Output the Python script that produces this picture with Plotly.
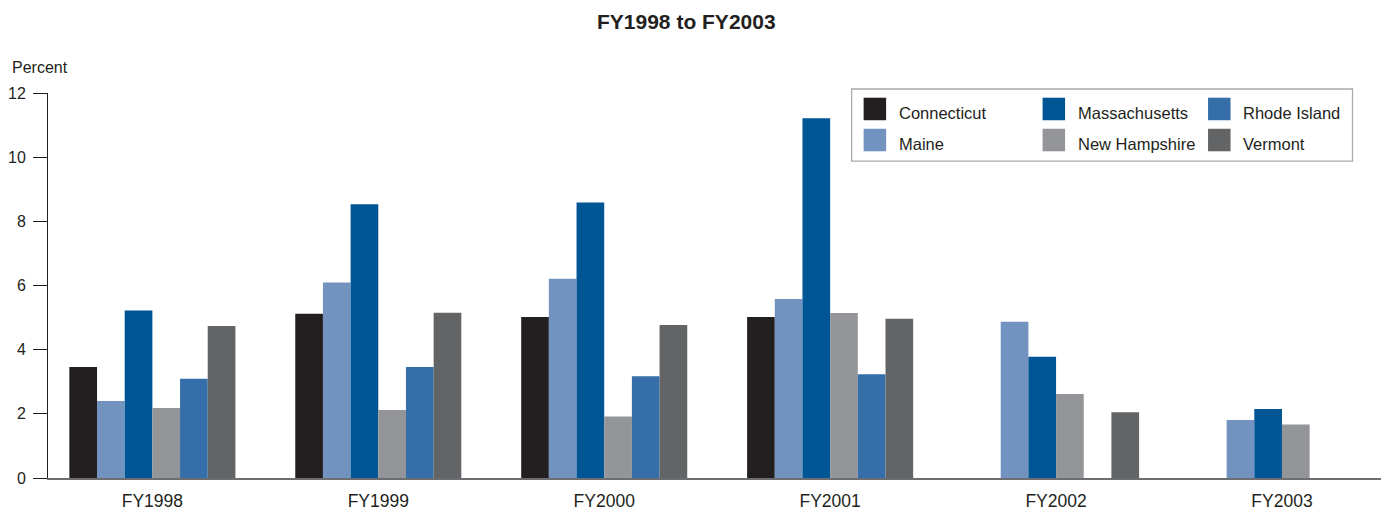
import plotly.graph_objects as go

years = ["FY1998", "FY1999", "FY2000", "FY2001", "FY2002", "FY2003"]
states = ["Connecticut", "Maine", "Massachusetts", "New Hampshire", "Rhode Island", "Vermont"]
connecticut = [3.46, 5.12, 5.02, 5.02, None, None]
maine = [2.40, 6.09, 6.21, 5.58, 4.87, 1.81]
massachusetts = [5.22, 8.53, 8.59, 11.21, 3.78, 2.15]
new_hampshire = [2.18, 2.12, 1.92, 5.14, 2.62, 1.67]
rhode_island = [3.09, 3.46, 3.17, 3.23, None, None]
vermont = [4.74, 5.15, 4.77, 4.96, 2.05, None]
series = [connecticut, maine, massachusetts, new_hampshire, rhode_island, vermont]
colors = ["#231f20", "#7293c0", "#005595", "#939598", "#356ea9", "#636466"]
y_ticks = [0, 2, 4, 6, 8, 10, 12]
legend_order = ["Connecticut", "Massachusetts", "Rhode Island", "Maine", "New Hampshire", "Vermont"]

# page has an 8px body margin; work in reference pixel coords and shift
OFF = 8
W, H = 1389 - OFF, 510 - OFF
FONT = "Liberation Sans, Arial, sans-serif"
TXT = "#231f20"

# plot area in reference pixels
left, right, top, bottom = 47.7, 1385, 93.3, 477.7
ml, mr, mt, mb = left - OFF, (W + OFF) - right, top - OFF, (H + OFF) - bottom
pw = right - left
ph = bottom - top

def dx(v):
    return (v - left) / pw

def dy(v):
    return 1 - (v - top) / ph

fig = go.Figure()
for name, vals, col in zip(states, series, colors):
    fig.add_trace(go.Bar(x=years, y=vals, name=name,
                         marker=dict(color=col, line=dict(width=0)), showlegend=False))

col_sq_x = [863.5, 1042.5, 1208]
col_tx_x = [896.5, 1075.5, 1240.5]
row_sq_y = [98, 129]
row_tx_y = [113, 144.5]
sq = 22.5

shape_list = [dict(type="rect", xref="paper", yref="paper", x0=dx(851.5), x1=dx(1352.5),
                   y0=dy(161.3), y1=dy(89.3), line=dict(color="#a7a9ac", width=1.3),
                   fillcolor="white", layer="above")]
ann_list = []
for i, name in enumerate(legend_order):
    r, c = divmod(i, 3)
    col = colors[states.index(name)]
    shape_list.append(dict(type="rect", xref="paper", yref="paper",
                           x0=dx(col_sq_x[c]), x1=dx(col_sq_x[c] + sq),
                           y0=dy(row_sq_y[r] + sq), y1=dy(row_sq_y[r]),
                           line=dict(width=0), fillcolor=col, layer="above"))
    ann_list.append(dict(text=name, xref="paper", yref="paper", x=dx(col_tx_x[c]), y=dy(row_tx_y[r]),
                         xanchor="left", yanchor="middle", showarrow=False,
                         font=dict(family=FONT, size=16.5, color=TXT)))

ann_list.append(dict(text="Percent", xref="paper", yref="paper", x=dx(10), y=dy(67.5),
                     xanchor="left", yanchor="middle", showarrow=False,
                     font=dict(family=FONT, size=16, color=TXT)))
ann_list.append(dict(text="<b>FY1998 to FY2003</b>", xref="paper", yref="paper", x=dx(686), y=dy(21.5),
                     xanchor="center", yanchor="middle", showarrow=False,
                     font=dict(family=FONT, size=21, color=TXT)))

fig.update_layout(
    width=W, height=H,
    margin=dict(l=ml, r=mr, t=mt, b=mb, autoexpand=False),
    paper_bgcolor="white", plot_bgcolor="white",
    barmode="group", bargap=0.265, bargroupgap=0,
    shapes=shape_list, annotations=ann_list,
    font=dict(family=FONT, color=TXT),
)
fig.update_xaxes(range=[-0.462, 5.456], showline=True, linecolor="#6d6e71", linewidth=2,
                 ticks="", showgrid=False, zeroline=False,
                 tickfont=dict(family=FONT, size=17.5, color=TXT), ticklabelstandoff=6)
fig.update_yaxes(range=[0, 12], tickvals=y_ticks, ticktext=[str(v) for v in y_ticks],
                 showline=True, linecolor=TXT, linewidth=1,
                 ticks="outside", ticklen=14, tickcolor=TXT, tickwidth=1,
                 showgrid=False, zeroline=False,
                 tickfont=dict(family=FONT, size=16, color=TXT), ticklabelstandoff=4)

fig.write_html("out.html")
